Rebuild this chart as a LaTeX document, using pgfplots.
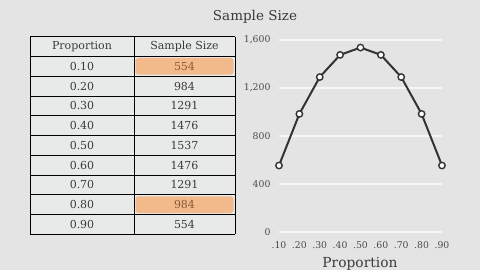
\documentclass[border=0pt]{standalone}
\usepackage{pgfplots}
\pgfplotsset{compat=1.18}
\usepackage{fontspec}
\setmainfont{DejaVu Serif}
\definecolor{bg}{HTML}{E3E4E3}
\definecolor{cellbg}{HTML}{E8E9E9}
\definecolor{txt}{HTML}{3A3A3A}
\definecolor{ticktxt}{HTML}{4A4A4A}
\definecolor{hltxt}{HTML}{8A5A3A}
\definecolor{hl}{HTML}{F2B98B}
\definecolor{linec}{HTML}{333333}
\definecolor{gridc}{HTML}{F6F6F6}
\begin{document}
\begin{tikzpicture}[x=1pt,y=1pt]
\fill[bg] (0,0) rectangle (480,270);
\useasboundingbox (0,0) rectangle (480,270);
\node[font=\fontsize{13.5}{15}\selectfont, text=txt] at (255,253) {Sample Size};
\node[font=\fontsize{13.8}{15}\selectfont, text=txt] at (360,6) {Proportion};
% table
\def\rowh{19.76}
\fill[cellbg] (30,233.3) rectangle (235,35.7);
\fill[hl, rounded corners=3pt] (135.5,{270-36.7-\rowh*1-1.5}) rectangle (233.5,{270-36.7-\rowh*2+1.5});
\fill[hl, rounded corners=3pt] (135.5,{270-36.7-\rowh*8-1.5}) rectangle (233.5,{270-36.7-\rowh*9+1.5});
\foreach \i in {0,...,10} \draw[black, line width=0.8pt] (30,{270-36.7-\rowh*\i}) -- (235,{270-36.7-\rowh*\i});
\foreach \xx in {30,134,235} \draw[black, line width=0.8pt] (\xx,233.3) -- (\xx,35.7);
\node[font=\fontsize{11}{12}\selectfont, text=txt] at (82,{270-36.7-\rowh*0.5}) {Proportion};
\node[font=\fontsize{11}{12}\selectfont, text=txt] at (184.5,{270-36.7-\rowh*0.5}) {Sample Size};
\foreach \p/\n/\c [count=\k] in {0.10/554/hltxt,0.20/984/txt,0.30/1291/txt,0.40/1476/txt,0.50/1537/txt,0.60/1476/txt,0.70/1291/txt,0.80/984/hltxt,0.90/554/txt}{
  \node[font=\fontsize{11}{12}\selectfont, text=txt] at (82,{270-36.7-\rowh*(\k+0.5)}) {\p};
  \node[font=\fontsize{11}{12}\selectfont, text=\c] at (184.5,{270-36.7-\rowh*(\k+0.5)}) {\n};
}
\begin{axis}[at={(279pt,38pt)}, anchor=south west, scale only axis,
  width=163pt, height=192pt,
  xmin=0.1, xmax=0.9, ymin=0, ymax=1600,
  axis line style={draw=none}, major tick length=0pt,
  ytick={0,400,800,1200,1600},
  xtick={0.1,0.2,0.3,0.4,0.5,0.6,0.7,0.8,0.9},
  xticklabels={.10,.20,.30,.40,.50,.60,.70,.80,.90},
  ymajorgrids, grid style={gridc, line width=1.2pt},
  tick label style={font=\fontsize{9.3}{10}\selectfont, text=ticktxt},
  yticklabel style={xshift=-5pt},
  xticklabel style={yshift=-6pt},
  /pgf/number format/assume math mode=true,
  /pgf/number format/1000 sep={,},
  clip=false]
\addplot[linec, line width=2pt, mark=*, mark size=3.2pt,
  mark options={fill=white, draw=linec, line width=1.4pt}]
  coordinates {(0.1,554) (0.2,984) (0.3,1291) (0.4,1476) (0.5,1537) (0.6,1476) (0.7,1291) (0.8,984) (0.9,554)};
\end{axis}
\end{tikzpicture}
\end{document}
